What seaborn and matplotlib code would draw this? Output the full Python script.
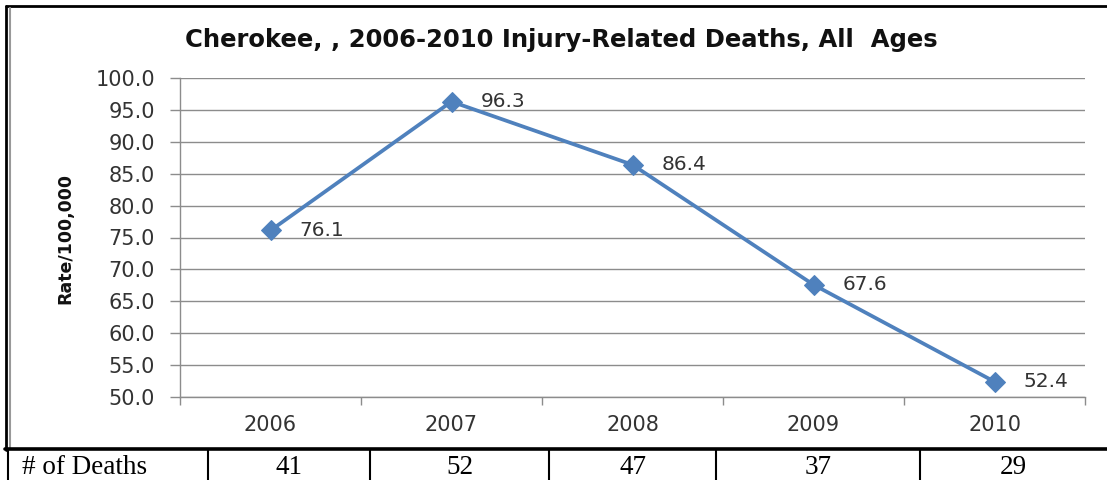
import numpy as np
import pandas as pd
import matplotlib
matplotlib.use("Agg")
import matplotlib.pyplot as plt
from matplotlib.lines import Line2D
import seaborn as sns

# chart data
years = ["2006", "2007", "2008", "2009", "2010"]
rates = [76.1, 96.3, 86.4, 67.6, 52.4]
deaths = [41, 52, 47, 37, 29]
row_label = "# of Deaths"

title = "Cherokee, , 2006-2010 Injury-Related Deaths, All  Ages"
ylabel = "Rate/100,000"

sns.set_theme(style="white")
plt.rcParams['font.family'] = ['DejaVu Sans']

W, H = 1107, 480
fig = plt.figure(figsize=(W / 100, H / 100), dpi=100)
fig.patch.set_facecolor("white")

def fx(px):
    return px / W

def fy(py):
    return 1 - py / H

# plot area in pixels: left 180, right 1085, top 78, bottom 397
ax = fig.add_axes([fx(180), fy(397), fx(1085 - 180), (397 - 78) / H])

df = pd.DataFrame({"x": np.arange(len(years)), "rate": rates})
blue = "#4F81BD"
sns.lineplot(data=df, x="x", y="rate", ax=ax, color=blue, lw=2.7,
             marker="D", markersize=10, markeredgecolor=blue, markerfacecolor=blue)

txt = "#333333"
ax.set_xlim(-0.5, len(years) - 0.5)
ax.set_ylim(50, 100)
ax.set_yticks(np.arange(50, 100.1, 5))
ax.set_yticklabels([f"{v:.1f}" for v in np.arange(50, 100.1, 5)], fontsize=15, color=txt)
ax.yaxis.grid(True, color="#8c8c8c", lw=1)
ax.set_axisbelow(True)

ax.set_xticks(np.arange(len(years)))
ax.set_xticklabels(years, fontsize=15, color=txt)
ax.set_xticks(np.arange(-0.5, len(years)), minor=True)
ax.tick_params(axis="x", which="major", length=0, pad=13)
ax.tick_params(axis="x", which="minor", length=6, color="#8c8c8c", width=1, direction="out", bottom=True)
ax.tick_params(axis="y", length=7, color="#8c8c8c", width=1, direction="out", left=True, pad=11)

for s in ["top", "right"]:
    ax.spines[s].set_visible(False)
for s in ["left", "bottom"]:
    ax.spines[s].set_color("#8c8c8c")
    ax.spines[s].set_linewidth(1)

ax.set_xlabel("")
ax.set_ylabel("")

for i, v in enumerate(rates):
    ax.annotate(f"{v:.1f}", (i, v), xytext=(21, 0), textcoords="offset points",
                ha="left", va="center", fontsize=14.5, color=txt)

fig.text(fx(561), fy(40), title, ha="center", va="center", fontsize=17.5,
         fontweight="bold", color="#111111")
fig.text(fx(65), fy(238), ylabel, ha="center", va="center", rotation=90,
         fontsize=12.5, fontweight="bold", color="#111111")

# chart frame
fig.add_artist(Line2D([fx(6), fx(1107)], [fy(6), fy(6)], color="black", lw=2))
fig.add_artist(Line2D([fx(6), fx(6)], [fy(6), fy(450)], color="black", lw=2))
fig.add_artist(Line2D([fx(10), fx(10)], [fy(8), fy(448)], color="#999999", lw=1.5))
fig.add_artist(Line2D([fx(5), fx(1107)], [fy(449), fy(449)], color="black", lw=2.6))

# table row below the chart
edges = [8, 208, 370, 549, 716, 920, 1107]
for e in edges[:-1]:
    fig.add_artist(Line2D([fx(e), fx(e)], [fy(450), fy(480)], color="black", lw=1.5))

serif = ["Liberation Serif", "DejaVu Serif"]
fig.text(fx(22), fy(468), row_label, ha="left", va="center", fontsize=19.5,
         family=serif, color="black")
for i, d in enumerate(deaths):
    cx = (edges[i + 1] + edges[i + 2]) / 2
    fig.text(fx(cx), fy(468), str(d), ha="center", va="center", fontsize=19.5,
             family=serif, color="black")

fig.savefig("out.png", dpi=100)
